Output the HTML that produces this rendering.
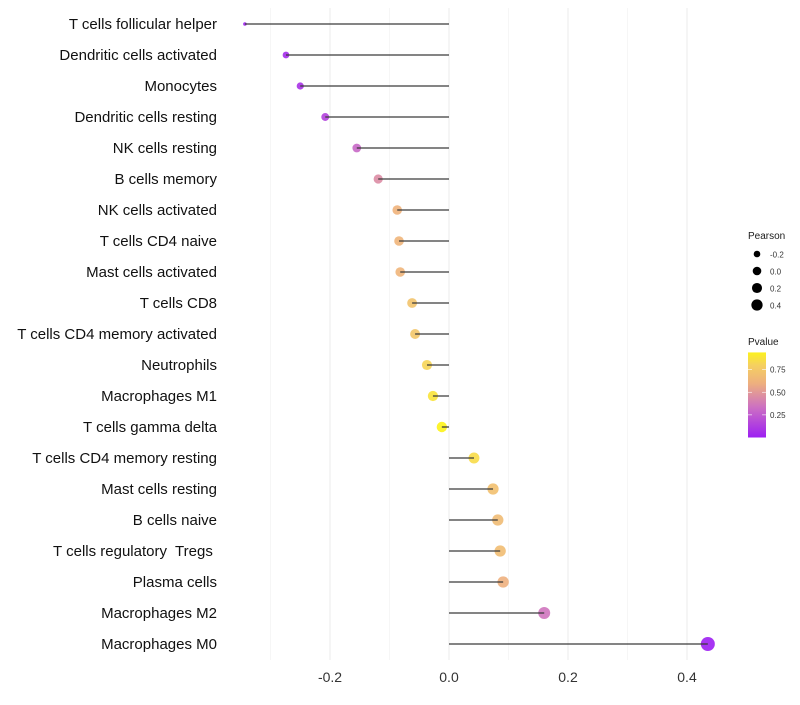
<!DOCTYPE html>
<html><head><meta charset="utf-8"><style>
body{margin:0;background:#fff;font-family:"Liberation Sans",sans-serif}
text{white-space:pre}
</style></head><body>
<svg id="c" width="800" height="700" xmlns="http://www.w3.org/2000/svg" font-family="Liberation Sans, sans-serif"></svg>
<script>
const categories=["T cells follicular helper","Dendritic cells activated","Monocytes","Dendritic cells resting","NK cells resting","B cells memory","NK cells activated","T cells CD4 naive","Mast cells activated","T cells CD8","T cells CD4 memory activated","Neutrophils","Macrophages M1","T cells gamma delta","T cells CD4 memory resting","Mast cells resting","B cells naive","T cells regulatory  Tregs ","Plasma cells","Macrophages M2","Macrophages M0"];
const pearson=[-0.343,-0.274,-0.250,-0.208,-0.155,-0.119,-0.087,-0.084,-0.082,-0.062,-0.057,-0.037,-0.027,-0.012,0.042,0.074,0.082,0.086,0.091,0.160,0.435];
const pvalue=[0.02,0.05,0.08,0.15,0.30,0.45,0.62,0.63,0.63,0.72,0.74,0.82,0.88,0.95,0.85,0.70,0.67,0.68,0.60,0.35,0.0];
const xTicks=[-0.2,0.0,0.2,0.4];
const xTickLabels=["-0.2","0.0","0.2","0.4"];
const sizeLegend=[-0.2,0.0,0.2,0.4];
const colorTicks=[0.25,0.5,0.75];

const svg=document.getElementById('c');const NS="http://www.w3.org/2000/svg";
function el(t,a,p){const e=document.createElementNS(NS,t);for(const k in a)e.setAttribute(k,a[k]);(p||svg).appendChild(e);return e;}
const xs=v=>449+v*595;
const ys=i=>24+i*31;
const rs=v=>1.8+5.2*Math.sqrt(Math.max(0,(v+0.343)/0.778));
const stops=[[0,[157,31,242]],[0.33,[204,111,195]],[0.6,[238,176,126]],[0.8,[245,208,96]],[1,[255,255,0]]];
function col(p){for(let i=1;i<stops.length;i++){if(p<=stops[i][0]){const a=stops[i-1],b=stops[i];const t=(p-a[0])/(b[0]-a[0]);return 'rgb('+a[1].map((c,j)=>Math.round(c+(b[1][j]-c)*t)).join(',')+')';}}return 'rgb(255,255,0)';}
const grid=el('g',{},svg);


[-0.3,-0.1,0.1,0.3].forEach(v=>el('line',{x1:xs(v),x2:xs(v),y1:8,y2:660,stroke:'#f3f3f3','stroke-width':0.7},grid));
xTicks.forEach(v=>el('line',{x1:xs(v),x2:xs(v),y1:8,y2:660,stroke:'#ebebeb','stroke-width':1},grid));
xTicks.forEach((v,i)=>{const t=el('text',{x:xs(v),y:682,'text-anchor':'middle','font-size':14,fill:'#333'});t.textContent=xTickLabels[i];

});
categories.forEach((c,i)=>{
 const l=el('text',{x:217,y:ys(i)+5,'text-anchor':'end','font-size':15,fill:'#111'});l.textContent=c;
 
 
 const d=el('circle',{cx:xs(pearson[i]),cy:ys(i),r:rs(pearson[i]),fill:col(pvalue[i]),'fill-opacity':0.9});
 
 
 const s=el('line',{x1:xs(0),x2:xs(pearson[i]),y1:ys(i),y2:ys(i),stroke:'#3a3a3a','stroke-width':1.3});
 
 
});
const t1=el('text',{x:748,y:239,'font-size':10,fill:'#1a1a1a'});t1.textContent='Pearson';


sizeLegend.forEach((v,i)=>{const cy=254+i*17;
 const c=el('circle',{cx:757,cy:cy,r:rs(v)*0.82,fill:'#000'});
 
 
 const t=el('text',{x:770,y:cy+3.5,'font-size':8,fill:'#333'});t.textContent=v.toFixed(1);
 
 });
const t2=el('text',{x:748,y:345,'font-size':10,fill:'#1a1a1a'});t2.textContent='Pvalue';


const defs=el('defs',{});const lg=el('linearGradient',{id:'g',x1:0,y1:1,x2:0,y2:0},defs);
const pTop=0.94;stops.forEach(s=>{if(s[0]<=pTop)el('stop',{offset:s[0]/pTop,'stop-color':col(s[0])},lg);});
el('stop',{offset:1,'stop-color':col(pTop)},lg);
const cy0=437.5,cy1=347;const py=p=>cy0+(cy1-cy0)*p;
const bar=el('rect',{x:748,y:py(pTop),width:18,height:cy0-py(pTop),fill:'url(#g)'});


colorTicks.forEach(v=>{el('line',{x1:748,x2:752,y1:py(v),y2:py(v),stroke:'#fff','stroke-width':0.6});el('line',{x1:762,x2:766,y1:py(v),y2:py(v),stroke:'#fff','stroke-width':0.6});
 const t=el('text',{x:770,y:py(v)+3,'font-size':8,fill:'#333'});t.textContent=v.toFixed(2);
 
 });
</script>
</body></html>
